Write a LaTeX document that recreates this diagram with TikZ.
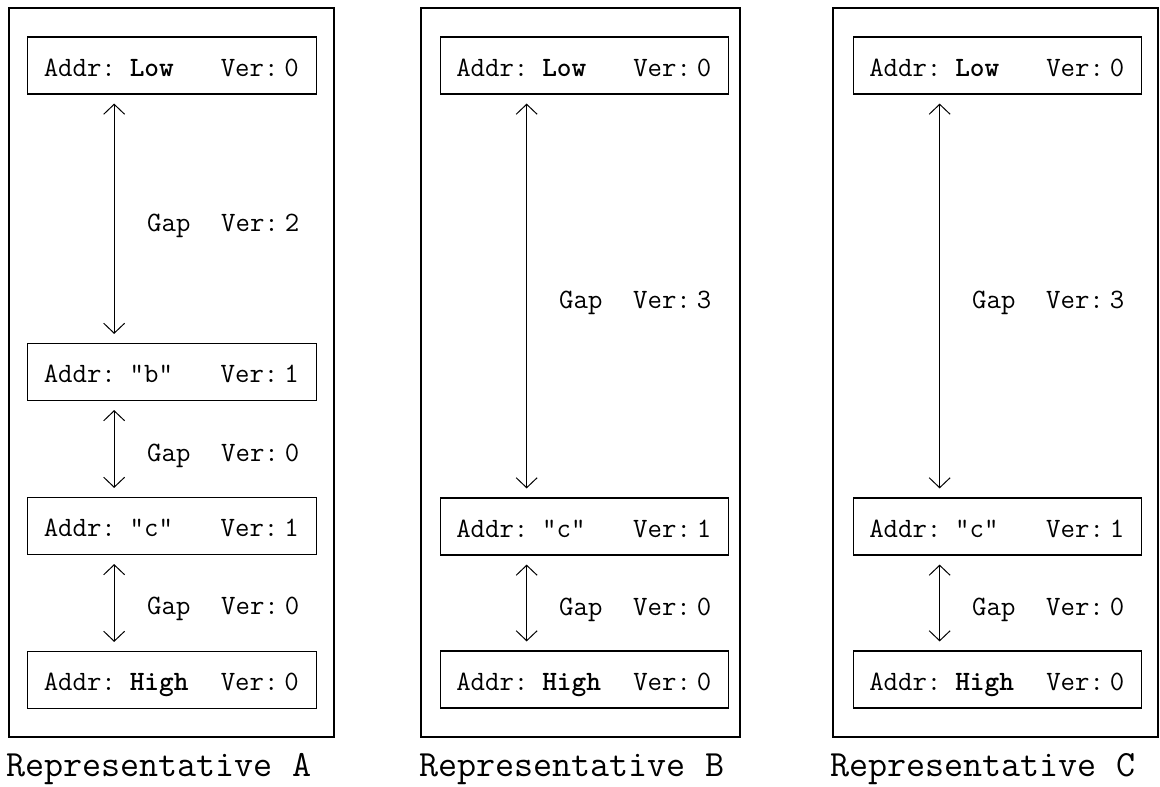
\documentclass[tikz,border=0pt]{standalone}
\usetikzlibrary{arrows.meta}

\newcommand\boxfont{\ttfamily\fontsize{28}{30}\selectfont}
\newcommand\capfont{\ttfamily\fontsize{37}{40}\selectfont}
% one record line: address field, then version field at a fixed column
\newcommand\entry[2]{\hbox to 288.5pt{\hskip16pt\hbox to 86pt{Addr:\hfill}\hbox to 91pt{#1\hfill}Ver:\kern6pt#2\hss}}
% gap label beside an arrow
\newcommand\gaptxt[1]{\hbox to 74pt{Gap\hfill}Ver:\kern6pt#1}

\tikzset{
  frame/.style={draw, line width=2.2pt, minimum height=729pt, inner sep=0pt},
  slot/.style={draw, line width=1.2pt, minimum width=288.5pt, minimum height=57pt,
    inner sep=0pt, text height=21pt, text depth=0pt, font=\boxfont},
  span/.style={line width=1pt,
    {Straight Barb[length=10pt,width=21pt]}-{Straight Barb[length=10pt,width=21pt]},
    shorten <=9pt, shorten >=9pt},
  gaptext/.style={anchor=base west, inner sep=0pt, font=\boxfont},
  caption/.style={anchor=base west, inner sep=0pt, font=\capfont},
}

\begin{document}
\begin{tikzpicture}[x=1pt, y=-1pt]
\useasboundingbox (0,0) rectangle (1160,787);

% ---------- Representative A ----------
\node[frame, minimum width=325pt] (fA) at (171.5,372.5) {};
\node[slot] (lowA)  at (172,65.5) {\entry{\textbf{Low}}{0}};
\node[slot] (bA)    at (172,372)  {\entry{"b"}{1}};
\node[slot] (cA)    at (172,526)  {\entry{"c"}{1}};
\node[slot] (highA) at (172,680)  {\entry{\textbf{High}}{0}};
\draw[span] ([xshift=87pt]lowA.south west) -- ([xshift=87pt]bA.north west);
\draw[span] ([xshift=87pt]bA.south west)   -- ([xshift=87pt]cA.north west);
\draw[span] ([xshift=87pt]cA.south west)   -- ([xshift=87pt]highA.north west);
\node[gaptext] (gA1) at (147,231) {\gaptxt{2}};
\node[gaptext] (gA2) at (147,461) {\gaptxt{0}};
\node[gaptext] (gA3) at (147,614) {\gaptxt{0}};
\node[caption] (capA) at (6,776) {Representative A};

% ---------- Representative B ----------
\node[frame, minimum width=319pt] (fB) at (580.5,372.5) {};
\node[slot] (lowB)  at (584.5,65.5)  {\entry{\textbf{Low}}{0}};
\node[slot] (cB)    at (584.5,526.5) {\entry{"c"}{1}};
\node[slot] (highB) at (584.5,679.5) {\entry{\textbf{High}}{0}};
\draw[span] ([xshift=87pt]lowB.south west) -- ([xshift=87pt]cB.north west);
\draw[span] ([xshift=87pt]cB.south west)   -- ([xshift=87pt]highB.north west);
\node[gaptext] (gB1) at (559,308) {\gaptxt{3}};
\node[gaptext] (gB2) at (559,615) {\gaptxt{0}};
\node[caption] (capB) at (419,776) {Representative B};

% ---------- Representative C ----------
\node[frame, minimum width=325pt] (fC) at (995.5,372.5) {};
\node[slot] (lowC)  at (997.5,65.5)  {\entry{\textbf{Low}}{0}};
\node[slot] (cC)    at (997.5,526.5) {\entry{"c"}{1}};
\node[slot] (highC) at (997.5,679.5) {\entry{\textbf{High}}{0}};
\draw[span] ([xshift=87pt]lowC.south west) -- ([xshift=87pt]cC.north west);
\draw[span] ([xshift=87pt]cC.south west)   -- ([xshift=87pt]highC.north west);
\node[gaptext] (gC1) at (972,308) {\gaptxt{3}};
\node[gaptext] (gC2) at (972,615) {\gaptxt{0}};
\node[caption] (capC) at (830,776) {Representative C};
\end{tikzpicture}
\end{document}
